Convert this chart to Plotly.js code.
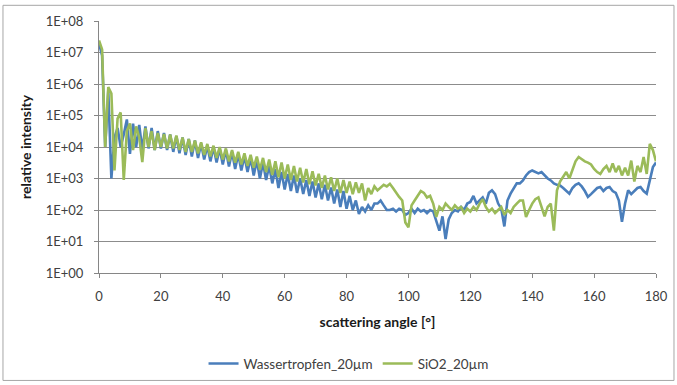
<!DOCTYPE html>
<html>
<head>
<meta charset="utf-8">
<script src="https://cdn.plot.ly/plotly-3.0.1.min.js"></script>
<style>
html,body{margin:0;padding:0;background:#fff;}
#chart{width:677px;height:385px;}
</style>
</head>
<body>
<div id="chart"></div>
<script>
// scattering angle in degrees
const angles = [0,1,2,3,4,5,6,7,8,9,10,11,12,13,14,15,16,17,18,19,20,21,22,23,24,25,26,27,28,29,30,31,32,33,34,35,36,37,38,39,40,41,42,43,44,45,46,47,48,49,50,51,52,53,54,55,56,57,58,59,60,61,62,63,64,65,66,67,68,69,70,71,72,73,74,75,76,77,78,79,80,81,82,83,84,85,86,87,88,89,90,91,92,93,94,95,96,97,98,99,100,101,102,103,104,105,106,107,108,109,110,111,112,113,114,115,116,117,118,119,120,121,122,123,124,125,126,127,128,129,130,131,132,133,134,135,136,137,138,139,140,141,142,143,144,145,146,147,148,149,150,151,152,153,154,155,156,157,158,159,160,161,162,163,164,165,166,167,168,169,170,171,172,173,174,175,176,177,178,179,180];

// Wassertropfen_20µm (relative intensity)
const wasser = [2e7,8e6,1e4,6e5,1e3,2e4,4e4,1e4,2.5e4,7.5e4,
6e3,5.5e4,1e4,5e4,8e3,4.5e4,9e3,4e4,8e3,3.2e4,
9e3,2.8e4,8e3,2.5e4,7e3,2.2e4,6.3e3,2e4,5.6e3,1.8e4,
5e3,1.6e4,4.5e3,1.3e4,4e3,1.1e4,3.5e3,1e4,3.2e3,9e3,
2.8e3,8e3,2.4e3,7e3,2e3,6e3,1.8e3,5.2e3,1.6e3,4.5e3,
1.25e3,3.8e3,1e3,3.2e3,900,2.6e3,700,2e3,500,1.6e3,
450,1.4e3,400,1.25e3,350,1e3,320,900,280,800,
250,700,220,630,200,520,160,450,125,400,
110,280,100,200,75,125,90,140,100,160,
160,200,140,100,100,110,90,110,100,70,
80,110,80,110,90,100,80,100,90,45,
22,63,12,50,80,100,90,125,100,160,
180,280,160,200,250,160,350,420,320,160,
110,30,200,330,500,700,700,870,1.25e3,1.6e3,
1.8e3,1.6e3,1.45e3,1.6e3,1.25e3,1e3,870,700,630,600,
500,400,330,500,630,700,560,400,260,320,
400,500,540,400,500,540,400,350,200,42,
160,420,320,400,500,540,400,330,800,2.3e3,3.2e3];

// SiO2_20µm (relative intensity)
const sio2 = [2.4e7,1.25e7,1e4,8e5,5e5,1.8e3,8e4,1.25e5,900,3.2e4,
5.6e4,8e3,4.5e4,2e4,3.3e3,4e4,1e4,3.2e4,8e3,2.8e4,
1e4,2.6e4,9e3,2.5e4,9e3,2.3e4,8e3,2e4,7e3,1.8e4,
7e3,1.6e4,6.3e3,1.4e4,5.6e3,1.25e4,5e3,1.1e4,4.5e3,1e4,
4e3,9e3,3.5e3,8e3,3.2e3,7e3,2.8e3,6.3e3,2.5e3,5.6e3,
2.2e3,5e3,1.9e3,4.5e3,1.6e3,4e3,1.3e3,3.5e3,1.1e3,3.2e3,
1e3,2.8e3,900,2.5e3,800,2.2e3,750,2e3,660,1.7e3,
600,1.4e3,500,1.25e3,450,1.1e3,400,1e3,350,900,
350,800,320,750,350,700,200,500,320,560,
420,500,630,560,680,500,350,260,200,40,
28,140,200,280,400,350,250,280,160,60,
125,100,160,125,100,140,110,125,80,110,
90,125,100,160,220,125,90,110,80,100,
125,70,100,80,125,160,200,200,60,100,
160,220,250,125,63,125,160,22,420,800,
1.1e3,1.6e3,1e3,2e3,3.5e3,4.8e3,4e3,3.5e3,3.2e3,2.8e3,
2e3,1.6e3,1.4e3,2e3,2.5e3,1.6e3,3e3,1.6e3,2.5e3,1.25e3,
2.2e3,1.25e3,3.7e3,800,2.5e3,1.6e3,4.8e3,1.4e3,1.25e4,8e3,3.5e3];

const seriesNames = ['Wassertropfen_20µm', 'SiO2_20µm'];
const seriesColors = ['#4A7EBB', '#9BBB59'];
const yTickVals = [1,10,100,1e3,1e4,1e5,1e6,1e7,1e8];
const yTickText = ['1E+00','1E+01','1E+02','1E+03','1E+04','1E+05','1E+06','1E+07','1E+08'];
const xTickVals = [0,20,40,60,80,100,120,140,160,180];

const traces = [
  {x: angles, y: wasser, name: seriesNames[0], type: 'scatter', mode: 'lines',
   line: {color: seriesColors[0], width: 2.6}},
  {x: angles, y: sio2, name: seriesNames[1], type: 'scatter', mode: 'lines',
   line: {color: seriesColors[1], width: 2.6}}
];

const fam = 'Lato, "Open Sans", sans-serif';
const tickFont = {family: fam, size: 13, color: '#404040'};
const titleFont = {family: fam, size: 14, color: '#1a1a1a', weight: 'bold'};

const layout = {
  width: 677, height: 385,
  margin: {l: 99, r: 21, t: 21, b: 112, pad: 0, autoexpand: false},
  paper_bgcolor: '#ffffff', plot_bgcolor: '#ffffff',
  showlegend: true,
  legend: {orientation: 'h', x: 0.448, xanchor: 'center', y: -0.36, yanchor: 'middle',
           font: {family: fam, size: 13.5, color: '#404040'},
           itemwidth: 30, tracegroupgap: 0, bgcolor: 'rgba(0,0,0,0)'},
  xaxis: {
    range: [0, 180], tickvals: xTickVals, ticks: 'outside', ticklen: 4, tickcolor: '#868686',
    showline: true, linecolor: '#868686', linewidth: 1, showgrid: false, zeroline: false,
    tickfont: tickFont, ticklabelstandoff: 7, automargin: false,
    title: {text: 'scattering angle [°]', font: titleFont, standoff: 14}
  },
  yaxis: {
    type: 'log', range: [0, 8], tickvals: yTickVals, ticktext: yTickText,
    ticks: 'outside', ticklen: 4, tickcolor: '#868686',
    showline: true, linecolor: '#868686', linewidth: 1,
    showgrid: true, gridcolor: '#8c8c8c', gridwidth: 1, zeroline: false,
    tickfont: tickFont, ticklabelstandoff: 8, automargin: false,
    title: {text: 'relative intensity', font: titleFont, standoff: 10}
  },
  shapes: [
    {type: 'rect', xref: 'paper', yref: 'paper', x0: -0.1724, x1: 1.0323, y0: -0.4264, y1: 1.0623,
     line: {color: '#a6a6a6', width: 1}, fillcolor: 'rgba(0,0,0,0)', layer: 'below'}
  ]
};

Plotly.newPlot('chart', traces, layout, {staticPlot: true, displayModeBar: false});
</script>
</body>
</html>
